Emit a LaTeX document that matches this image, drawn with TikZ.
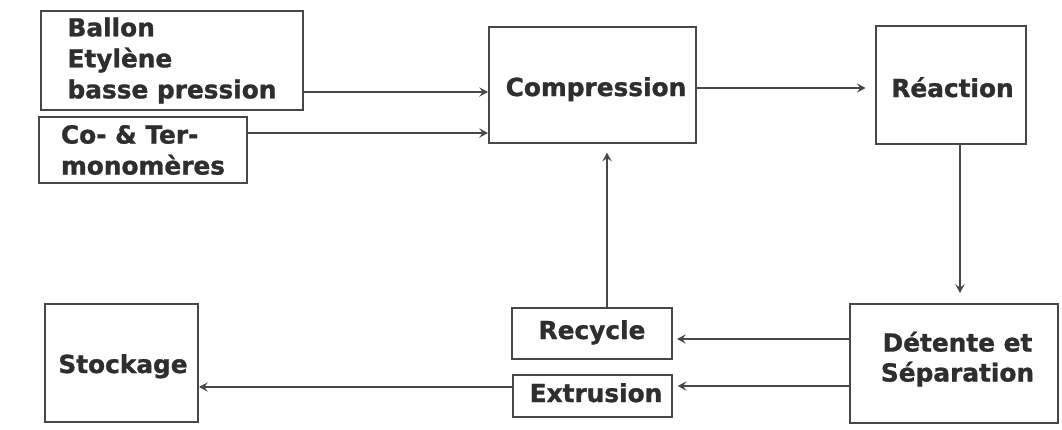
\documentclass[tikz,border=0pt]{standalone}
\usepackage{fontspec}
\setmainfont{DejaVu Sans}
\newfontfamily\heavyfont{DejaVu Sans Bold}[FakeBold=1.2]
\usetikzlibrary{arrows.meta}
\definecolor{txt}{HTML}{2E2E2E}
\definecolor{ln}{HTML}{474747}
\begin{document}
\begin{tikzpicture}[x=0.75pt,y=-0.75pt,
  box/.style={draw=ln,line width=1.6pt,inner sep=0pt,text=txt,
    font=\fontsize{18.6}{23.25}\selectfont\heavyfont},
  lbl/.style={inner sep=0pt,text=txt,anchor=base,
    font=\fontsize{18.6}{23.25}\selectfont\heavyfont},
  arr/.style={draw=ln,line width=1.4pt,-{Stealth[length=6.5pt,width=7pt,inset=2.5pt]}}]
\useasboundingbox (0,0) rectangle (1062,429);
\node[box,minimum width=196.5pt,minimum height=74.25pt,align=left] (ballon) at (172,60.5) {Ballon\\Etylène\\basse pression};
\node[box,minimum width=156pt,minimum height=49.5pt,align=left] (como) at (143,150) {Co- \& Ter-\\monomères};
\node[box,minimum width=155.25pt,minimum height=87pt] (comp) at (592.5,85) {};
\node[box,minimum width=112.5pt,minimum height=88.5pt] (reac) at (951,85) {};
\node[box,minimum width=156pt,minimum height=89.25pt] (det) at (954,363.5) {};
\node[box,minimum width=120pt,minimum height=38.25pt] (rec) at (592,333.5) {};
\node[box,minimum width=119.25pt,minimum height=31.5pt] (ext) at (592.5,396) {};
\node[box,minimum width=114.75pt,minimum height=88.5pt] (sto) at (121.5,363) {};
\node[lbl] (compL) at (596,96) {Compression};
\node[lbl] (reacL) at (952.5,97) {Réaction};
\node[lbl] (detL1) at (957.5,351.5) {Détente et};
\node[lbl] (detL2) at (957.5,381.5) {Séparation};
\node[lbl] (recL) at (592,339) {Recycle};
\node[lbl] (extL) at (596,402) {Extrusion};
\node[lbl] (stoL) at (123,373) {Stockage};
\draw[arr] (ballon.east |- 0,92) -- (comp.west |- 0,92);
\draw[arr] (como.east |- 0,133) -- (comp.west |- 0,133);
\draw[arr,shorten >=7pt] (comp.east |- 0,88) -- (reac.west |- 0,88);
\draw[arr,shorten >=7.5pt] (reac.south -| 960,0) -- (det.north -| 960,0);
\draw[arr,shorten >=3pt] (det.west |- 0,339) -- (rec.east |- 0,339);
\draw[arr,shorten >=3.5pt] (det.west |- 0,386) -- (ext.east |- 0,386);
\draw[arr,shorten >=6.5pt] (rec.north -| 607,0) -- (comp.south -| 607,0);
\draw[arr] (ext.west |- 0,387) -- (sto.east |- 0,387);
\end{tikzpicture}
\end{document}
